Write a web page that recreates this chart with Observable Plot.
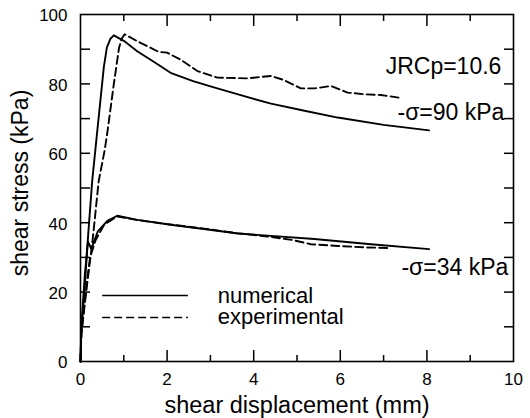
<!DOCTYPE html>
<html>
<head>
<meta charset="utf-8">
<script src="https://cdn.jsdelivr.net/npm/d3@7"></script>
<script src="https://cdn.jsdelivr.net/npm/@observablehq/plot@0.6"></script>
<style>
  html, body { margin: 0; padding: 0; background: white; }
  svg { display: block; }
</style>
</head>
<body>
<div id="chart"></div>
<script>
// ---- data ----
const xLabelTicks = [0, 2, 4, 6, 8, 10];
const xMajorTicks = [2, 4, 6, 8];
const xMinorTicks = [1, 3, 5, 7, 9];
const yLabelTicks = [0, 20, 40, 60, 80, 100];
const yTicks = [10, 20, 30, 40, 50, 60, 70, 80, 90];

// numerical, sigma = 90 kPa
const num90X = [0, 0.02, 0.09, 0.18, 0.27, 0.40, 0.54, 0.61, 0.69, 0.77, 1.00, 1.31, 1.70, 2.08, 2.60, 3.16, 3.80, 4.40, 5.20, 5.94, 7.00, 8.05];
const num90Y = [0, 9, 20, 37, 52, 68, 85, 90.5, 93, 94, 92.4, 89.4, 86.3, 83.2, 80.8, 78.7, 76.4, 74.3, 72.2, 70.3, 68.2, 66.6];
// experimental, sigma = 90 kPa
const exp90X = [0, 0.02, 0.15, 0.28, 0.42, 0.56, 0.62, 0.77, 0.89, 0.95, 1.02, 1.31, 1.60, 1.81, 2.00, 2.31, 2.70, 3.16, 3.86, 4.40, 4.70, 5.09, 5.40, 5.79, 6.17, 6.56, 6.94, 7.37];
const exp90Y = [0, 8, 22, 35, 52, 61, 66, 80, 90.4, 93, 94.3, 92.3, 90.5, 89.2, 89, 87, 83.7, 81.8, 81.6, 82.3, 81.1, 78.7, 78.7, 79.4, 77.5, 77, 76.8, 76];
// numerical, sigma = 34 kPa
const num34X = [0, 0.02, 0.10, 0.17, 0.25, 0.40, 0.62, 0.85, 1.31, 2.08, 2.85, 3.63, 4.40, 5.40, 6.71, 8.05];
const num34Y = [0, 10, 25, 34.5, 32.5, 37.5, 40.5, 42, 40.8, 39.4, 38.2, 36.9, 36.2, 35.3, 33.8, 32.4];
// experimental, sigma = 34 kPa
const exp34X = [0, 0.02, 0.12, 0.22, 0.35, 0.55, 0.85, 1.30, 2.00, 2.85, 3.60, 4.40, 4.90, 5.32, 5.94, 6.55, 7.10];
const exp34Y = [0, 8, 20, 30, 35, 39.5, 41.8, 40.8, 39.6, 38.3, 37, 35.9, 35, 33.8, 33.3, 32.9, 32.7];

const legendLabels = ["numerical", "experimental"];
const annoText = ["JRCp=10.6", "-σ=90 kPa", "-σ=34 kPa"];
const annoX = [9.72, 9.79, 9.88];
const annoY = [85.1, 71.6, 27.0];

// ---- layout ----
const W = 530, H = 418;
const ML = 80, MR = 17, MT = 14, MB = 57;
const XD = [0, 10], YD = [0, 100];
const FONT = "'Liberation Sans', Arial, Helvetica, sans-serif";
const DASH = "8,4";
const LEG = {x1: 0.5, x2: 2.48, tx: 3.17, y0: 19.0, dy: 6.3};
const MAJ = 11, MIN = 6, YT = 10;

const pts = (xs, ys) => xs.map((x, i) => ({x, y: ys[i]}));
const series = [
  {data: pts(num90X, num90Y), dash: null},
  {data: pts(exp90X, exp90Y), dash: DASH},
  {data: pts(num34X, num34Y), dash: null},
  {data: pts(exp34X, exp34Y), dash: DASH}
];
const legendData = legendLabels.map((label, i) => ({label, i, y: LEG.y0 - i * LEG.dy}));
const annoData = annoText.map((t, i) => ({t, x: annoX[i], y: annoY[i]}));
const legendSolid = legendData.filter(d => d.i === 0).map(d => ({x1: LEG.x1, x2: LEG.x2, y1: d.y, y2: d.y}));
const legendDashed = legendData.filter(d => d.i === 1).map(d => ({x1: LEG.x1, x2: LEG.x2, y1: d.y, y2: d.y}));
const seg = {x1: "x1", x2: "x2", y1: "y1", y2: "y2", stroke: "black"};

// inward ticks drawn with Plot's own axis tick marks, shifted inside the frame
const noText = () => "";
const tk = {label: null, tickFormat: noText, stroke: "black", strokeWidth: 1.5, tickPadding: 0};

const chart = Plot.plot({
  width: W, height: H,
  marginLeft: ML, marginRight: MR, marginTop: MT, marginBottom: MB,
  x: {domain: XD},
  y: {domain: YD},
  style: {fontFamily: FONT, color: "black", background: "white", overflow: "visible"},
  marks: [
    Plot.axisX({ticks: xLabelTicks, tickSize: 0, tickPadding: 11, fontSize: 17, label: null}),
    Plot.axisY({ticks: yLabelTicks, tickSize: 0, tickPadding: 13, fontSize: 17, label: null, dy: 1.5}),
    Plot.axisX({...tk, anchor: "bottom", ticks: xMajorTicks, tickSize: MAJ, dy: -MAJ}),
    Plot.axisX({...tk, anchor: "bottom", ticks: xMinorTicks, tickSize: MIN, dy: -MIN}),
    Plot.axisX({...tk, anchor: "top", ticks: xMajorTicks, tickSize: MAJ, dy: MAJ}),
    Plot.axisX({...tk, anchor: "top", ticks: xMinorTicks, tickSize: MIN, dy: MIN}),
    Plot.axisY({...tk, anchor: "left", ticks: yTicks, tickSize: YT, dx: YT}),
    Plot.axisY({...tk, anchor: "right", ticks: yTicks, tickSize: YT, dx: -YT}),
    ...series.map(s => Plot.line(s.data, {x: "x", y: "y", stroke: "black", strokeWidth: 1.9, strokeDasharray: s.dash})),
    Plot.link(legendSolid, {...seg, strokeWidth: 1.4}),
    Plot.link(legendDashed, {...seg, strokeWidth: 1.4, strokeDasharray: DASH}),
    Plot.text(legendData, {x: LEG.tx, y: "y", text: "label", textAnchor: "start", fontSize: 22, fill: "black"}),
    Plot.text(annoData, {x: "x", y: "y", text: "t", textAnchor: "end", fontSize: 23, fill: "black"}),
    Plot.text(["shear displacement (mm)"], {frameAnchor: "bottom", lineAnchor: "middle", textAnchor: "middle", dy: 44, fontSize: 23.5, fill: "black"}),
    Plot.text(["shear stress (kPa)"], {frameAnchor: "left", lineAnchor: "middle", textAnchor: "middle", dx: -60, dy: -5, rotate: -90, fontSize: 23, fill: "black"}),
    Plot.frame({stroke: "black", strokeWidth: 1.6})
  ]
});
document.getElementById("chart").appendChild(chart);
</script>
</body>
</html>
